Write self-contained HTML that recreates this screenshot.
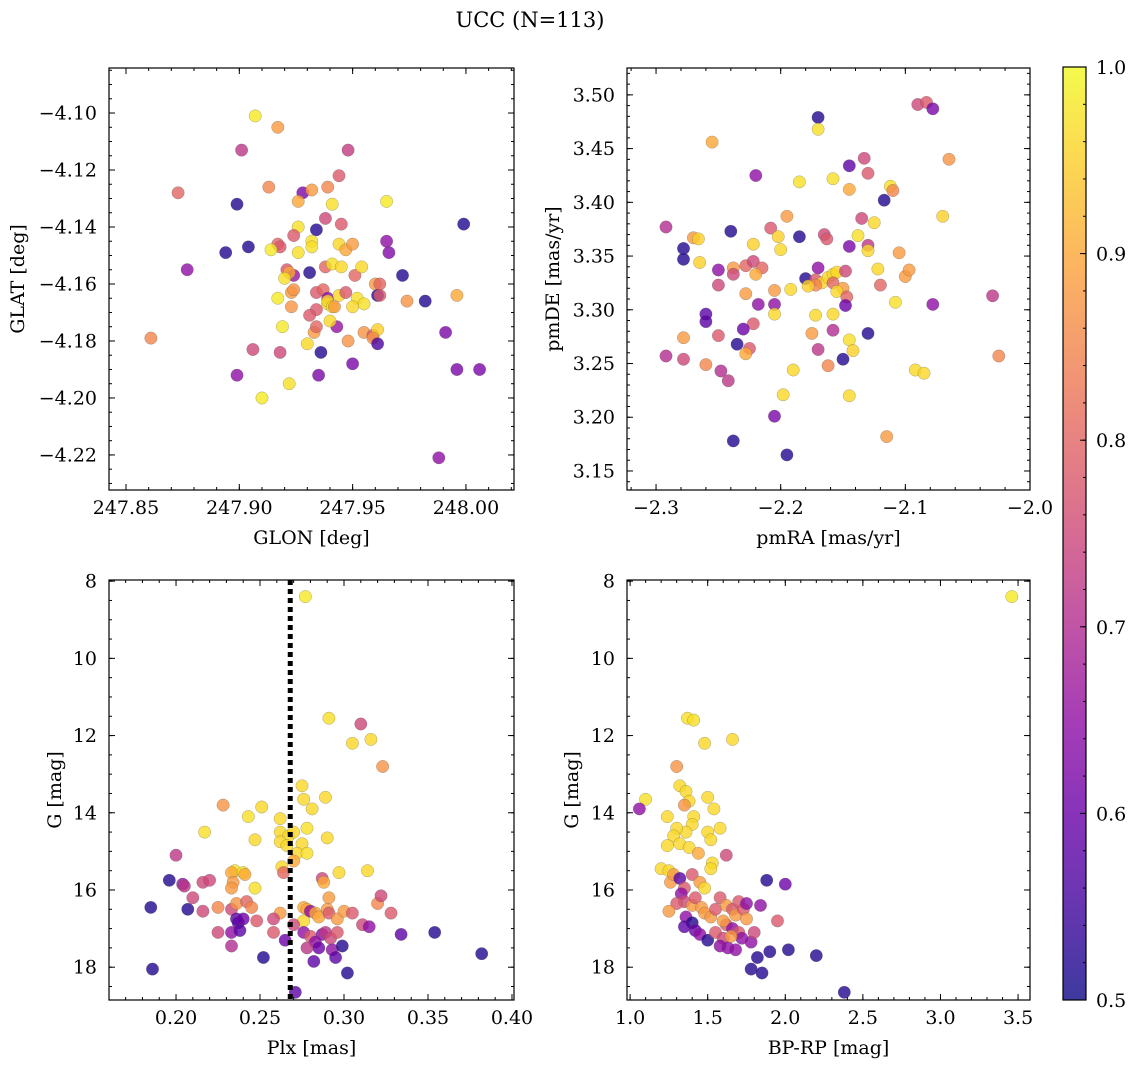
<!DOCTYPE html>
<html><head><meta charset="utf-8"><style>
html,body{margin:0;padding:0;background:#fff;}
svg{display:block;font-family:"DejaVu Serif","Liberation Serif",serif;}
</style></head><body>
<svg id="fig" width="1136" height="1067" viewBox="0 0 1136 1067">
<text x="530" y="27" text-anchor="middle" font-size="21">UCC (N=113)</text>
</svg>
<script>
// Panel 1 data: GLON, GLAT, membership probability
const p1_glon=[247.907,247.917,247.901,247.948,247.873,247.913,247.899,247.928,247.932,247.939,247.944,247.926,247.941,247.965,247.934,247.945,247.938,247.926,247.894,247.904,247.917,247.918,247.924,247.926,247.932,247.932,247.944,247.947,247.950,247.965,247.966,247.877,247.914,247.921,247.924,247.931,247.938,247.941,247.922,247.920,247.934,247.937,247.939,247.944,247.945,247.951,247.947,247.954,247.960,247.962,247.972,247.917,247.923,247.924,247.923,247.939,247.939,247.941,247.942,247.952,247.955,247.961,247.962,247.974,247.982,247.996,247.950,247.934,247.919,247.931,247.933,247.934,247.943,247.940,247.955,247.959,247.961,247.959,247.948,247.930,247.961,247.861,247.906,247.918,247.936,247.950,247.899,247.935,247.922,247.910,247.991,247.996,248.006,247.999,247.988];
const p1_glat=[-4.101,-4.105,-4.113,-4.113,-4.128,-4.126,-4.132,-4.128,-4.127,-4.126,-4.122,-4.131,-4.132,-4.131,-4.141,-4.139,-4.137,-4.140,-4.149,-4.147,-4.146,-4.147,-4.143,-4.149,-4.145,-4.147,-4.146,-4.148,-4.146,-4.145,-4.149,-4.155,-4.148,-4.155,-4.157,-4.156,-4.154,-4.153,-4.156,-4.158,-4.163,-4.162,-4.165,-4.164,-4.154,-4.157,-4.163,-4.154,-4.160,-4.160,-4.157,-4.165,-4.163,-4.162,-4.168,-4.167,-4.166,-4.168,-4.168,-4.165,-4.167,-4.164,-4.164,-4.166,-4.166,-4.164,-4.168,-4.169,-4.175,-4.171,-4.177,-4.175,-4.175,-4.173,-4.177,-4.178,-4.176,-4.179,-4.180,-4.181,-4.181,-4.179,-4.183,-4.184,-4.184,-4.188,-4.192,-4.192,-4.195,-4.200,-4.177,-4.190,-4.190,-4.139,-4.221];
const p1_prob=[0.98,0.88,0.72,0.73,0.8,0.85,0.52,0.62,0.88,0.85,0.78,0.9,0.97,0.98,0.52,0.78,0.75,0.97,0.52,0.52,0.8,0.78,0.78,0.97,0.97,0.97,0.96,0.9,0.88,0.65,0.63,0.65,0.98,0.78,0.66,0.52,0.8,0.97,0.9,0.97,0.78,0.8,0.65,0.96,0.96,0.8,0.78,0.96,0.88,0.8,0.52,0.98,0.88,0.87,0.87,0.97,0.96,0.97,0.88,0.97,0.97,0.52,0.78,0.87,0.52,0.9,0.96,0.78,0.98,0.78,0.88,0.8,0.66,0.96,0.87,0.78,0.95,0.87,0.87,0.96,0.56,0.85,0.75,0.75,0.52,0.62,0.65,0.62,0.97,0.98,0.62,0.62,0.62,0.52,0.65];
// Panel 2 data: pmRA, pmDE, probability
const p2_pmra=[-2.255,-2.170,-2.170,-2.090,-2.083,-2.078,-2.065,-2.133,-2.145,-2.130,-2.220,-2.185,-2.158,-2.145,-2.112,-2.110,-2.070,-2.117,-2.292,-2.240,-2.270,-2.266,-2.195,-2.208,-2.185,-2.135,-2.125,-2.222,-2.202,-2.200,-2.165,-2.163,-2.145,-2.130,-2.130,-2.138,-2.105,-2.278,-2.278,-2.265,-2.250,-2.238,-2.228,-2.222,-2.215,-2.220,-2.238,-2.170,-2.180,-2.172,-2.167,-2.162,-2.158,-2.155,-2.148,-2.158,-2.150,-2.155,-2.147,-2.148,-2.122,-2.120,-2.100,-2.097,-2.108,-2.078,-2.228,-2.218,-2.205,-2.205,-2.192,-2.172,-2.178,-2.260,-2.260,-2.250,-2.222,-2.230,-2.205,-2.172,-2.175,-2.158,-2.158,-2.130,-2.145,-2.142,-2.170,-2.162,-2.150,-2.278,-2.250,-2.235,-2.292,-2.278,-2.260,-2.248,-2.242,-2.225,-2.228,-2.190,-2.198,-2.205,-2.145,-2.115,-2.238,-2.195,-2.092,-2.085,-2.030,-2.025];
const p2_pmde=[3.456,3.479,3.468,3.491,3.493,3.487,3.440,3.441,3.434,3.427,3.425,3.419,3.422,3.412,3.415,3.411,3.387,3.402,3.377,3.373,3.367,3.366,3.387,3.376,3.368,3.385,3.381,3.361,3.368,3.356,3.370,3.366,3.359,3.360,3.355,3.369,3.353,3.357,3.347,3.344,3.337,3.339,3.341,3.345,3.339,3.333,3.333,3.339,3.329,3.328,3.325,3.330,3.333,3.335,3.336,3.325,3.320,3.317,3.312,3.304,3.338,3.323,3.331,3.337,3.307,3.305,3.315,3.305,3.318,3.305,3.319,3.323,3.322,3.296,3.289,3.323,3.287,3.282,3.296,3.295,3.278,3.281,3.296,3.278,3.272,3.262,3.263,3.248,3.254,3.274,3.276,3.268,3.257,3.254,3.249,3.243,3.234,3.264,3.259,3.244,3.221,3.201,3.220,3.182,3.178,3.165,3.244,3.241,3.313,3.257];
const p2_prob=[0.9,0.52,0.97,0.75,0.78,0.62,0.87,0.75,0.58,0.78,0.65,0.97,0.97,0.9,0.97,0.85,0.95,0.52,0.7,0.52,0.88,0.95,0.88,0.78,0.52,0.75,0.96,0.95,0.95,0.96,0.75,0.78,0.62,0.72,0.96,0.97,0.88,0.52,0.52,0.95,0.65,0.88,0.8,0.75,0.8,0.9,0.75,0.65,0.52,0.78,0.95,0.96,0.96,0.96,0.75,0.8,0.88,0.96,0.8,0.6,0.96,0.8,0.88,0.88,0.97,0.65,0.88,0.65,0.88,0.65,0.96,0.85,0.95,0.58,0.58,0.75,0.78,0.6,0.96,0.96,0.88,0.7,0.96,0.52,0.97,0.95,0.72,0.85,0.52,0.88,0.78,0.52,0.7,0.75,0.85,0.7,0.72,0.78,0.9,0.96,0.96,0.62,0.96,0.88,0.52,0.52,0.96,0.96,0.72,0.85];
// Panel 3 data: Plx, G, probability
const p3_plx=[0.277,0.291,0.310,0.316,0.305,0.323,0.275,0.276,0.289,0.281,0.228,0.251,0.243,0.262,0.278,0.217,0.262,0.267,0.270,0.262,0.290,0.247,0.266,0.275,0.272,0.278,0.270,0.200,0.263,0.235,0.233,0.240,0.241,0.264,0.287,0.297,0.314,0.288,0.234,0.233,0.247,0.196,0.204,0.205,0.216,0.220,0.185,0.207,0.210,0.216,0.225,0.233,0.236,0.242,0.245,0.262,0.258,0.248,0.236,0.237,0.240,0.233,0.225,0.233,0.238,0.252,0.258,0.276,0.278,0.276,0.280,0.283,0.285,0.290,0.291,0.291,0.296,0.300,0.305,0.311,0.320,0.322,0.328,0.315,0.334,0.354,0.382,0.276,0.280,0.283,0.287,0.289,0.292,0.296,0.285,0.278,0.282,0.293,0.299,0.295,0.302,0.186,0.271,0.265,0.270];
const p3_g=[8.4,11.55,11.7,12.1,12.2,12.8,13.3,13.65,13.6,13.9,13.8,13.85,14.1,14.15,14.4,14.5,14.5,14.6,14.5,14.75,14.65,14.7,14.85,14.8,15.05,15.05,15.25,15.1,15.4,15.5,15.55,15.55,15.6,15.55,15.7,15.55,15.5,15.8,15.8,15.95,15.95,15.75,15.85,15.9,15.8,15.75,16.45,16.5,16.2,16.55,16.45,16.5,16.35,16.3,16.45,16.6,16.75,16.8,16.75,16.85,16.75,17.1,17.1,17.45,17.05,17.75,17.1,16.45,16.5,16.8,16.55,16.6,16.7,16.5,16.2,16.6,16.75,16.55,16.6,16.9,16.35,16.15,16.6,16.95,17.15,17.1,17.65,17.1,17.2,17.35,17.15,17.1,17.25,17.1,17.5,17.5,17.85,17.55,17.45,17.75,18.15,18.05,18.65,17.3,16.9];
const p3_prob=[0.98,0.97,0.75,0.96,0.96,0.87,0.96,0.96,0.96,0.96,0.87,0.96,0.97,0.96,0.97,0.97,0.96,0.96,0.96,0.96,0.96,0.96,0.96,0.96,0.96,0.97,0.9,0.72,0.96,0.97,0.9,0.97,0.9,0.8,0.75,0.96,0.96,0.9,0.88,0.88,0.97,0.52,0.65,0.72,0.75,0.75,0.52,0.52,0.75,0.75,0.85,0.75,0.87,0.8,0.85,0.88,0.75,0.78,0.58,0.58,0.6,0.65,0.75,0.7,0.58,0.52,0.78,0.9,0.9,0.96,0.65,0.9,0.9,0.88,0.88,0.78,0.88,0.88,0.78,0.75,0.85,0.75,0.78,0.65,0.58,0.52,0.52,0.65,0.78,0.65,0.65,0.72,0.75,0.78,0.6,0.72,0.58,0.65,0.52,0.58,0.52,0.52,0.58,0.6,0.75];
const plx_line=[0.268];
// Panel 4 data: BP-RP, G, probability
const p4_bprp=[3.46,1.37,1.41,1.66,1.48,1.30,1.32,1.10,1.06,1.36,1.38,1.35,1.50,1.54,1.41,1.24,1.40,1.36,1.30,1.28,1.50,1.58,1.52,1.24,1.32,1.38,1.44,1.62,1.53,1.52,1.20,1.25,1.26,1.28,1.32,1.40,1.45,1.48,1.35,1.33,1.35,1.40,1.42,1.46,1.48,1.52,1.55,1.30,1.25,1.36,1.40,1.58,1.62,1.66,1.68,1.70,1.73,1.75,1.75,1.62,1.66,1.70,1.72,1.35,1.42,1.45,1.50,1.55,1.60,1.58,1.63,1.68,1.78,1.80,1.84,1.95,1.88,2.00,1.90,1.82,1.78,1.85,2.02,2.20,2.38,1.65,1.60];
const p4_g=[8.4,11.55,11.6,12.1,12.2,12.8,13.3,13.65,13.9,13.45,13.7,13.8,13.6,13.9,14.1,14.1,14.3,14.5,14.4,14.6,14.5,14.4,14.7,14.85,14.8,14.9,15.05,15.1,15.3,15.45,15.45,15.5,15.8,15.6,15.7,15.6,15.8,15.95,15.95,16.1,16.3,16.4,16.2,16.45,16.6,16.7,16.5,16.35,16.55,16.7,16.85,16.2,16.4,16.5,16.65,16.3,16.5,16.35,16.75,16.9,17.0,17.1,17.25,16.95,17.05,17.15,17.3,17.1,17.25,17.45,17.5,17.55,17.35,17.1,16.4,16.8,15.75,15.85,17.6,17.75,18.05,18.15,17.55,17.7,18.65,17.2,16.8];
const p4_prob=[0.98,0.97,0.97,0.96,0.96,0.87,0.96,0.97,0.65,0.96,0.96,0.87,0.96,0.96,0.96,0.96,0.96,0.96,0.96,0.96,0.96,0.96,0.96,0.96,0.96,0.96,0.9,0.75,0.96,0.96,0.96,0.96,0.88,0.88,0.58,0.78,0.88,0.96,0.78,0.65,0.75,0.88,0.78,0.88,0.88,0.88,0.78,0.78,0.88,0.65,0.52,0.78,0.88,0.78,0.88,0.78,0.78,0.65,0.88,0.78,0.65,0.78,0.65,0.58,0.6,0.65,0.52,0.78,0.75,0.65,0.65,0.65,0.65,0.75,0.65,0.78,0.52,0.6,0.52,0.52,0.52,0.52,0.52,0.52,0.52,0.88,0.88];

const NS='http://www.w3.org/2000/svg';
const svg=document.getElementById('fig');
function mk(tag,attrs,parent){const e=document.createElementNS(NS,tag);for(const k in attrs)e.setAttribute(k,attrs[k]);(parent||svg).appendChild(e);return e;}
const stops=[[0,'#0d0887'],[0.1,'#41049d'],[0.2,'#6a00a8'],[0.3,'#8f0da4'],[0.4,'#b12a90'],[0.5,'#cc4778'],[0.6,'#e16462'],[0.7,'#f2844b'],[0.8,'#fca636'],[0.9,'#fcce25'],[1,'#f0f921']];
function hex(h){return [1,3,5].map(i=>parseInt(h.substr(i,2),16));}
function plasma(t){t=Math.max(0,Math.min(1,t));for(let i=1;i<stops.length;i++){if(t<=stops[i][0]){const a=stops[i-1],b=stops[i];const f=(t-a[0])/(b[0]-a[0]);const c1=hex(a[1]),c2=hex(b[1]);return 'rgb('+c1.map((v,j)=>Math.round(v+(c2[j]-v)*f)).join(',')+')';}}return stops[stops.length-1][1];}
function fmt(v,d){const s=Math.abs(v).toFixed(d);return (v<-1e-9?'\u2212':'')+s;}
const FS=19;

function panel(o){
  const g=mk('g',{});
  
  
  const X=v=>o.x0+(v-o.xmin)/(o.xmax-o.xmin)*(o.x1-o.x0);
  const Y=o.yrev?(v=>o.y0+(v-o.ymin)/(o.ymax-o.ymin)*(o.y1-o.y0)):(v=>o.y1-(v-o.ymin)/(o.ymax-o.ymin)*(o.y1-o.y0));
  const clip='c'+o.name;
  const cp=mk('clipPath',{id:clip},g);mk('rect',{x:o.x0,y:o.y0,width:o.x1-o.x0,height:o.y1-o.y0},cp);
  const pts=mk('g',{'clip-path':'url(#'+clip+')'},g);
  
  
  for(let i=0;i<o.xs.length;i++){
    const c=mk('circle',{cx:X(o.xs[i]).toFixed(1),cy:Y(o.ys[i]).toFixed(1),r:6.2,fill:plasma((o.ps[i]-0.5)/0.5),'fill-opacity':0.8,stroke:'#555','stroke-width':0.4,'stroke-opacity':0.6},pts);
    
    
  }
  if(o.vline){for(const v of o.vline){const l=mk('line',{x1:X(v),x2:X(v),y1:o.y0,y2:o.y1,stroke:'#000','stroke-width':5,'stroke-dasharray':'5,4'},g);
    
    }}
  const fr=mk('rect',{x:o.x0,y:o.y0,width:o.x1-o.x0,height:o.y1-o.y0,fill:'none',stroke:'#000','stroke-width':1.2},g);
  
  
  const tk=mk('g',{stroke:'#000','stroke-width':1},g);
  for(let v=o.xmn0;v<=o.xmax+1e-9;v+=o.xminor){if(v<o.xmin-1e-9)continue;const x=X(v);mk('line',{x1:x,x2:x,y1:o.y1,y2:o.y1-3},tk);mk('line',{x1:x,x2:x,y1:o.y0,y2:o.y0+3},tk);}
  for(let v=o.ymn0;v<=o.ymax+1e-9;v+=o.yminor){if(v<o.ymin-1e-9)continue;const y=Y(v);mk('line',{x1:o.x0,x2:o.x0+3,y1:y,y2:y},tk);mk('line',{x1:o.x1,x2:o.x1-3,y1:y,y2:y},tk);}
  for(const v of o.xticks){const x=X(v);mk('line',{x1:x,x2:x,y1:o.y1,y2:o.y1-6},tk);mk('line',{x1:x,x2:x,y1:o.y0,y2:o.y0+6},tk);
    const t=mk('text',{x:x,y:o.y1+24,'text-anchor':'middle','font-size':FS},g);t.textContent=fmt(v,o.xd);
    
    }
  for(const v of o.yticks){const y=Y(v);mk('line',{x1:o.x0,x2:o.x0+6,y1:y,y2:y},tk);mk('line',{x1:o.x1,x2:o.x1-6,y1:y,y2:y},tk);
    const t=mk('text',{x:o.x0-12,y:y+6.5,'text-anchor':'end','font-size':FS},g);t.textContent=fmt(v,o.yd);
    
    }
  const xl=mk('text',{x:(o.x0+o.x1)/2,y:o.y1+54,'text-anchor':'middle','font-size':FS},g);xl.textContent=o.xlabel;
  
  
  const yc=(o.y0+o.y1)/2;
  const yl=mk('text',{x:o.ylx,y:yc,'text-anchor':'middle','font-size':FS,transform:'rotate(-90 '+o.ylx+' '+yc+')'},g);yl.textContent=o.ylabel;
  
  
}
panel({name:'glon-glat-panel',x0:109,x1:514,y0:68,y1:490,xmin:247.8425,xmax:248.0212,ymin:-4.2323,ymax:-4.0842,xs:p1_glon,ys:p1_glat,ps:p1_prob,
  xticks:[247.85,247.90,247.95,248.00],xd:2,xminor:0.01,xmn0:247.84,yticks:[-4.22,-4.20,-4.18,-4.16,-4.14,-4.12,-4.10],yd:2,yminor:0.005,ymn0:-4.235,xlabel:'GLON [deg]',ylabel:'GLAT [deg]',ylx:24});
panel({name:'pm-panel',x0:627,x1:1030,y0:68,y1:490,xmin:-2.3233,xmax:-2.0,ymin:3.1323,ymax:3.525,xs:p2_pmra,ys:p2_pmde,ps:p2_prob,
  xticks:[-2.3,-2.2,-2.1,-2.0],xd:1,xminor:0.02,xmn0:-2.32,yticks:[3.15,3.20,3.25,3.30,3.35,3.40,3.45,3.50],yd:2,yminor:0.01,ymn0:3.14,xlabel:'pmRA [mas/yr]',ylabel:'pmDE [mas/yr]',ylx:559});
panel({name:'plx-g-panel',x0:109,x1:514,y0:580,y1:1000,xmin:0.1601,xmax:0.4012,ymin:7.97,ymax:18.85,yrev:true,xs:p3_plx,ys:p3_g,ps:p3_prob,vline:plx_line,
  xticks:[0.20,0.25,0.30,0.35,0.40],xd:2,xminor:0.01,xmn0:0.17,yticks:[8,10,12,14,16,18],yd:0,yminor:0.5,ymn0:8,xlabel:'Plx [mas]',ylabel:'G [mag]',ylx:61});
panel({name:'cmd-panel',x0:627,x1:1030,y0:580,y1:1000,xmin:0.98,xmax:3.577,ymin:7.97,ymax:18.85,yrev:true,xs:p4_bprp,ys:p4_g,ps:p4_prob,
  xticks:[1.0,1.5,2.0,2.5,3.0,3.5],xd:1,xminor:0.1,xmn0:1.0,yticks:[8,10,12,14,16,18],yd:0,yminor:0.5,ymn0:8,xlabel:'BP-RP [mag]',ylabel:'G [mag]',ylx:578});

// colorbar
const cbTicks=[0.5,0.6,0.7,0.8,0.9,1.0];
const defs=mk('defs',{});
const lg=mk('linearGradient',{id:'cbg',x1:0,y1:1,x2:0,y2:0},defs);
for(let i=0;i<=20;i++){mk('stop',{offset:i/20,'stop-color':plasma(i/20),'stop-opacity':0.8},lg);}
const cb=mk('g',{});


const cbx0=1063,cbx1=1086,cby0=67,cby1=1000;
mk('rect',{x:cbx0,y:cby0,width:cbx1-cbx0,height:cby1-cby0,fill:'url(#cbg)',stroke:'#000','stroke-width':1.2},cb);
const CY=v=>cby1-(v-0.5)/0.5*(cby1-cby0);
for(let v=0.5;v<=1.0001;v+=0.02){mk('line',{x1:cbx1,x2:cbx1-3,y1:CY(v),y2:CY(v),stroke:'#000'},cb);}
for(const v of cbTicks){mk('line',{x1:cbx1,x2:cbx1-6,y1:CY(v),y2:CY(v),stroke:'#000'},cb);
  const t=mk('text',{x:cbx1+10,y:CY(v)+7,'font-size':FS},cb);t.textContent=v.toFixed(1);
  
  }
</script>
</body></html>
